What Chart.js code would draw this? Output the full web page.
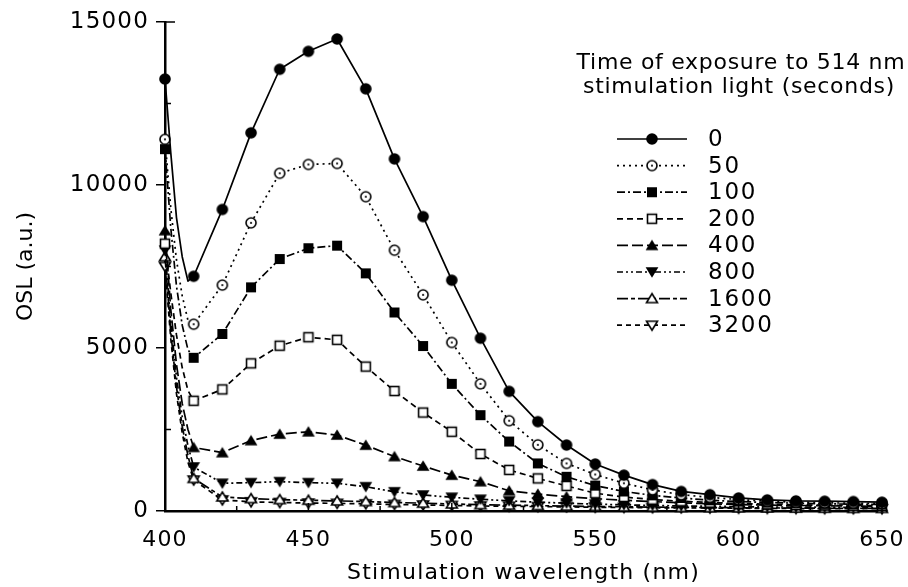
<!DOCTYPE html>
<html>
<head>
<meta charset="utf-8">
<script src="https://cdn.jsdelivr.net/npm/chart.js@4.4.1/dist/chart.umd.min.js"></script>
<style>
  html, body { margin: 0; padding: 0; background: #fff; }
  #wrap { width: 908px; height: 587px; }
</style>
</head>
<body>
<div id="wrap"><canvas id="c"></canvas></div>
<script>
// Stimulation wavelength (nm); the extra points below 410 nm follow the steep scatter tail.
const wavelengths = [400, 402, 404, 406, 408, 410, 420, 430, 440, 450, 460, 470, 480, 490, 500,
  510, 520, 530, 540, 550, 560, 570, 580, 590, 600, 610, 620, 630, 640, 650];

// Exposure times to 514 nm light (seconds)
const exposureLabels = ['0', '50', '100', '200', '400', '800', '1600', '3200'];

// OSL (a.u.) for each exposure time
const osl0    = [13250, 11000, 9000, 7800, 7050, 7200, 9250, 11600, 13550, 14100, 14480, 12950, 10800, 9030, 7080,
  5300, 3670, 2740, 2024, 1440, 1100, 810, 600, 500, 400, 340, 310, 300, 290, 270];
const osl50   = [11400, 9300, 7700, 6600, 5850, 5730, 6930, 8840, 10360, 10630, 10660, 9640, 8000, 6630, 5170,
  3900, 2770, 2030, 1460, 1120, 850, 650, 500, 420, 350, 300, 270, 250, 240, 230];
const osl100  = [11100, 8700, 6900, 5700, 4950, 4700, 5430, 6860, 7730, 8060, 8140, 7290, 6090, 5060, 3900,
  2940, 2130, 1460, 1050, 780, 600, 480, 400, 330, 290, 260, 240, 220, 210, 200];
const osl200  = [8200, 6700, 5400, 4400, 3700, 3380, 3730, 4530, 5070, 5330, 5250, 4430, 3680, 3020, 2430,
  1750, 1260, 1000, 770, 545, 430, 350, 300, 260, 230, 210, 190, 180, 170, 160];
const osl400  = [8600, 6200, 4500, 3300, 2500, 1950, 1790, 2160, 2360, 2430, 2330, 2020, 1670, 1380, 1100,
  900, 620, 520, 440, 380, 330, 290, 250, 220, 200, 180, 170, 160, 150, 140];
const osl800  = [8000, 5800, 4100, 2900, 2000, 1350, 850, 870, 900, 870, 850, 745, 590, 490, 420,
  360, 310, 270, 240, 210, 190, 170, 155, 145, 135, 125, 120, 115, 110, 105];
const osl1600 = [7800, 5500, 3800, 2600, 1700, 1000, 430, 380, 350, 330, 310, 290, 260, 240, 215,
  195, 180, 165, 150, 140, 130, 120, 110, 105, 100, 95, 90, 85, 80, 80];
const osl3200 = [7500, 5300, 3600, 2400, 1500, 950, 340, 280, 260, 245, 235, 220, 200, 185, 170,
  155, 145, 135, 125, 115, 108, 100, 95, 90, 85, 80, 75, 72, 70, 68];

const seriesValues = [osl0, osl50, osl100, osl200, osl400, osl800, osl1600, osl3200];

const legendTitle = ['Time of exposure to 514 nm', 'stimulation light (seconds)'];
const xTitle = 'Stimulation wavelength (nm)';
const yTitle = 'OSL (a.u.)';

const FONT = 'DejaVu Sans';
const INK = '#000';
const SPACING = '1.2px';

// Small bitmap markers shared by the plotted points and the legend
function makeMarker(kind) {
  const s = 16, m = s / 2;
  const c = document.createElement('canvas');
  c.width = s; c.height = s;
  const g = c.getContext('2d');
  g.lineWidth = 1.6; g.strokeStyle = INK; g.fillStyle = INK;
  const tri = (down, r) => {
    g.beginPath();
    if (down) { g.moveTo(m, m + r); g.lineTo(m + r * 1.1, m - r * 0.8); g.lineTo(m - r * 1.1, m - r * 0.8); }
    else { g.moveTo(m, m - r); g.lineTo(m + r * 1.1, m + r * 0.8); g.lineTo(m - r * 1.1, m + r * 0.8); }
    g.closePath();
  };
  switch (kind) {
    case 'disc':
      g.beginPath(); g.arc(m, m, 5.8, 0, Math.PI * 2); g.fill(); break;
    case 'ring':
      g.beginPath(); g.arc(m, m, 5, 0, Math.PI * 2); g.fillStyle = '#fff'; g.fill(); g.stroke();
      g.beginPath(); g.arc(m, m, 1.1, 0, Math.PI * 2); g.fillStyle = INK; g.fill(); break;
    case 'box':
      g.fillRect(m - 5, m - 5, 10, 10); break;
    case 'openBox':
      g.fillStyle = '#fff'; g.fillRect(m - 4.5, m - 4.5, 9, 9); g.strokeRect(m - 4.5, m - 4.5, 9, 9); break;
    case 'tri':
      tri(false, 5.8); g.fill(); break;
    case 'triDown':
      tri(true, 5.8); g.fill(); break;
    case 'openTri':
      tri(false, 5); g.fillStyle = '#fff'; g.fill(); g.stroke(); break;
    case 'openTriDown':
      tri(true, 5); g.fillStyle = '#fff'; g.fill(); g.stroke(); break;
  }
  return c;
}

const seriesStyles = [
  { marker: 'disc',        dash: [] },
  { marker: 'ring',        dash: [2, 4] },
  { marker: 'box',         dash: [8, 3, 2, 3] },
  { marker: 'openBox',     dash: [6, 4] },
  { marker: 'tri',         dash: [11, 4] },
  { marker: 'triDown',     dash: [6, 3, 2, 3, 2, 3] },
  { marker: 'openTri',     dash: [11, 3, 4, 3] },
  { marker: 'openTriDown', dash: [5, 4] }
];

const markerRadius = ctx => (ctx.raw && ctx.raw.x % 10 === 0) ? 5 : 0;

const datasets = seriesValues.map((vals, i) => ({
  label: exposureLabels[i],
  data: wavelengths.map((w, j) => ({ x: w, y: vals[j] })),
  borderColor: INK,
  borderWidth: 1.7,
  borderDash: seriesStyles[i].dash,
  borderJoinStyle: 'round',
  pointStyle: makeMarker(seriesStyles[i].marker),
  pointRadius: markerRadius,
  pointHoverRadius: markerRadius,
  tension: 0,
  fill: false,
  clip: false
}));

// Letter spacing for all canvas text
const spacingPlugin = {
  id: 'spacing',
  beforeLayout(chart) { chart.ctx.letterSpacing = SPACING; },
  beforeDraw(chart) { chart.ctx.letterSpacing = SPACING; }
};

// Inward minor ticks on both axes, plus the vertical axis title
const axisExtras = {
  id: 'axisExtras',
  afterDatasetsDraw(chart) {
    const { ctx, chartArea: a, scales: { x, y } } = chart;
    ctx.save();
    ctx.strokeStyle = INK; ctx.lineWidth = 1.5;
    ctx.beginPath();
    [2500, 7500, 12500].forEach(v => { const py = y.getPixelForValue(v); ctx.moveTo(a.left, py); ctx.lineTo(a.left + 6, py); });
    const top = y.getPixelForValue(15000); ctx.moveTo(a.left, top); ctx.lineTo(a.left + 10, top);
    for (let v = 400; v <= 650; v += 25) {
      const px = x.getPixelForValue(v);
      const len = v % 50 === 0 ? 8 : 5;
      ctx.moveTo(px, a.bottom); ctx.lineTo(px, a.bottom - len);
    }
    ctx.stroke();

    ctx.letterSpacing = '0px';
    ctx.fillStyle = INK;
    ctx.font = `22px "${FONT}"`;
    ctx.textAlign = 'center';
    ctx.textBaseline = 'middle';
    ctx.translate(26, (a.top + a.bottom) / 2);
    ctx.rotate(-Math.PI / 2);
    ctx.fillText(yTitle, 0, 0);
    ctx.restore();
  }
};

// Legend with line samples, markers and a two-line heading
const exposureLegend = {
  id: 'exposureLegend',
  afterDraw(chart) {
    const ctx = chart.ctx;
    ctx.save();
    ctx.fillStyle = INK;
    ctx.letterSpacing = '0.7px';
    ctx.font = `22px "${FONT}"`;
    ctx.textAlign = 'center';
    ctx.textBaseline = 'middle';
    ctx.fillText(legendTitle[0], 741, 63);
    ctx.fillText(legendTitle[1], 739, 87);
    ctx.textAlign = 'left';
    ctx.letterSpacing = '1.8px';
    ctx.font = `23px "${FONT}"`;
    chart.data.datasets.forEach((ds, i) => {
      const yy = 139 + i * 26.6;
      ctx.beginPath();
      ctx.setLineDash(ds.borderDash);
      ctx.lineWidth = 1.7; ctx.strokeStyle = INK;
      ctx.moveTo(617, yy); ctx.lineTo(687, yy); ctx.stroke();
      ctx.setLineDash([]);
      const img = ds.pointStyle;
      ctx.drawImage(img, 652 - img.width / 2, yy - img.height / 2);
      ctx.fillText(ds.label, 708, yy + 1);
    });
    ctx.restore();
  }
};

const tickFont = { family: FONT, size: 22 };
const plainNumber = v => String(v);

new Chart(document.getElementById('c'), {
  type: 'line',
  data: { datasets },
  plugins: [spacingPlugin, axisExtras, exposureLegend],
  options: {
    responsive: true,
    maintainAspectRatio: false,
    animation: false,
    events: [],
    layout: { padding: { top: 22, right: 26, left: 0, bottom: 0 } },
    plugins: { legend: { display: false }, tooltip: { enabled: false } },
    scales: {
      x: {
        type: 'linear',
        min: 400, max: 650,
        ticks: { stepSize: 50, color: INK, font: tickFont, padding: 16, maxRotation: 0, callback: plainNumber },
        grid: { display: true, drawOnChartArea: false, drawTicks: false, color: INK },
        border: { display: true, color: INK, width: 2.5 },
        title: { display: true, text: xTitle, color: INK, font: tickFont, padding: { top: 0, bottom: 1 } },
        afterFit(s) { s.height = 76; s.paddingLeft = 0; s.paddingRight = 0; }
      },
      y: {
        min: 0, max: 15000,
        ticks: { stepSize: 5000, color: INK, font: { family: FONT, size: 23 }, padding: 7, callback: plainNumber },
        grid: { display: true, drawOnChartArea: false, drawTicks: true, tickLength: 9, color: INK, lineWidth: 1.5 },
        border: { display: true, color: INK, width: 2.5 },
        title: { display: false },
        afterFit(s) { s.width = 165; s.paddingTop = 0; s.paddingBottom = 0; }
      }
    }
  }
});
</script>
</body>
</html>
